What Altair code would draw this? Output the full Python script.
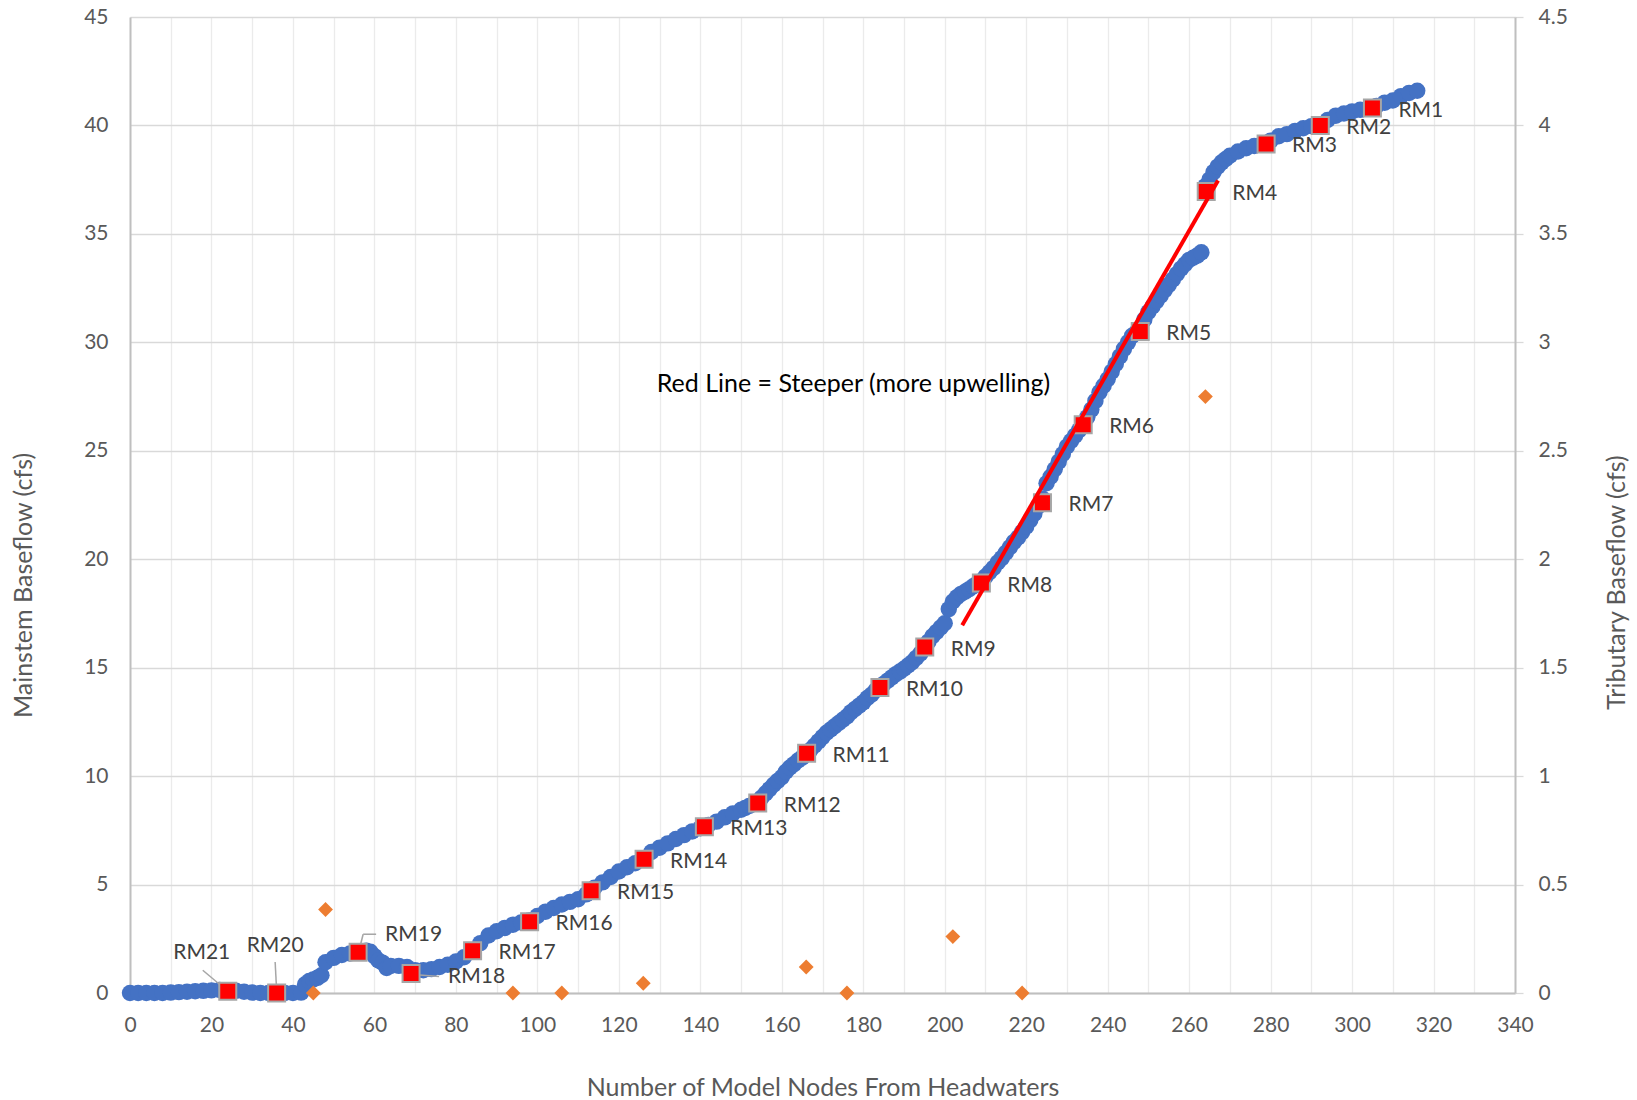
import altair as alt
import pandas as pd

# ---------------------------------------------------------------------------
# Mainstem baseflow (cfs) by model node, headwaters = node 0.
# Reach above the tributary inflow at node 264, then the reach below it.
# ---------------------------------------------------------------------------
upper_nodes = [0, 2, 4, 6, 8, 10, 12, 14, 16, 18, 20, 22, 24, 26, 28, 30, 32, 34, 36, 38,
               40, 42, 43, 44, 45, 46, 47, 48, 50, 52, 54, 56, 58, 59, 60, 61, 62, 63, 64, 66,
               68, 70, 72, 74, 76, 78, 80, 82, 84, 86, 88, 90, 92, 94, 96, 98, 100, 102, 104,
               106, 108, 110, 112, 114, 116, 118, 120, 122, 124, 126, 128, 130, 132, 134, 136,
               138, 140, 142, 144, 146, 148]
upper_flow = [0.0, 0.0, 0.0, 0.0, 0.0, 0.02, 0.04, 0.06, 0.08, 0.1, 0.12, 0.14, 0.12, 0.1,
              0.06, 0.02, 0.0, 0.0, 0.0, 0.0, 0.0, 0.02, 0.4, 0.55, 0.62, 0.7, 0.82, 1.42,
              1.62, 1.75, 1.82, 1.88, 1.95, 1.9, 1.7, 1.5, 1.4, 1.15, 1.25, 1.25, 1.2, 1.05,
              1.05, 1.1, 1.2, 1.3, 1.45, 1.65, 1.95, 2.3, 2.65, 2.85, 3.0, 3.15, 3.25, 3.35,
              3.55, 3.75, 3.92, 4.08, 4.2, 4.32, 4.55, 4.85, 5.1, 5.35, 5.6, 5.8, 5.98, 6.2,
              6.5, 6.7, 6.9, 7.1, 7.28, 7.45, 7.6, 7.75, 7.9, 8.1, 8.28]

steep_nodes = list(range(150, 264))
steep_flow = [8.45, 8.53, 8.62, 8.7, 8.8, 9.0, 9.2, 9.4, 9.6, 9.78,
              9.95, 10.2, 10.4, 10.55, 10.72, 10.85, 11.0, 11.2, 11.4, 11.6,
              11.8, 12.0, 12.15, 12.3, 12.45, 12.6, 12.75, 12.95, 13.1, 13.25,
              13.4, 13.6, 13.75, 13.95, 14.1, 14.25, 14.4, 14.55, 14.7, 14.82,
              14.95, 15.1, 15.25, 15.45, 15.65, 15.95, 16.2, 16.45, 16.65, 16.85,
              17.05, 17.7, 18.05, 18.25, 18.4, 18.5, 18.62, 18.75, 18.88, 19.0,
              19.2, 19.4, 19.6, 19.85, 20.05, 20.3, 20.55, 20.8, 21.0, 21.25,
              21.5, 21.8, 22.1, 22.45, 22.8, 23.5, 23.8, 24.15, 24.5, 24.85,
              25.2, 25.45, 25.7, 25.95, 26.2, 26.55, 26.9, 27.3, 27.7, 28.0,
              28.3, 28.65, 29.0, 29.35, 29.7, 30.0, 30.3, 30.45, 30.65, 31.05,
              31.4, 31.65, 31.9, 32.15, 32.4, 32.65, 32.9, 33.15, 33.4, 33.6,
              33.8, 33.9, 34.0, 34.15]

lower_nodes = [264, 265, 266, 267, 268, 269, 270, 272, 274, 276, 278, 280, 282, 284, 286,
               288, 290, 292, 294, 296, 298, 300, 302, 304, 306, 308, 310, 312, 314, 316]
lower_flow = [37.2, 37.5, 37.85, 38.1, 38.3, 38.45, 38.6, 38.8, 38.95, 39.05, 39.15, 39.3,
              39.5, 39.6, 39.75, 39.87, 39.97, 40.05, 40.25, 40.45, 40.55, 40.65, 40.72,
              40.8, 40.9, 41.05, 41.15, 41.35, 41.5, 41.6]

# River-mile markers along the mainstem
rm_names = ["RM1", "RM2", "RM3", "RM4", "RM5", "RM6", "RM7", "RM8", "RM9", "RM10", "RM11",
            "RM12", "RM13", "RM14", "RM15", "RM16", "RM17", "RM18", "RM19", "RM20", "RM21"]
rm_nodes = [305.0, 292.2, 278.9, 264.2, 248.0, 234.0, 224.0, 209.0, 195.1, 184.1, 166.1,
            154.1, 141.0, 126.2, 113.2, 98.1, 84.1, 69.0, 56.0, 36.0, 24.0]
rm_flow = [40.8, 40.0, 39.15, 36.95, 30.5, 26.2, 22.6, 18.9, 15.95, 14.08, 11.05,
           8.76, 7.66, 6.17, 4.72, 3.28, 1.95, 0.9, 1.88, 0.0, 0.08]

# Tributary inflows (secondary axis, cfs)
trib_nodes = [45, 48, 94, 106, 126, 166, 176, 202, 219, 264]
trib_flow = [0.0, 0.385, 0.0, 0.0, 0.045, 0.12, 0.0, 0.26, 0.0, 2.75]

# Steeper reach highlighted in red
steep_line_nodes = [204.3, 267.1]
steep_line_flow = [16.96, 37.46]

note_text = "Red Line = Steeper (more upwelling)"

# ---------------------------------------------------------------------------
# Layout
# ---------------------------------------------------------------------------
W, H = 1385, 976
X_MAX, Y_MAX, Y2_MAX = 340, 45, 4.5
PX_X = W / X_MAX
PX_Y = H / Y_MAX
FONT = "Lato"
TICK_GREY = "#595959"
LABEL_GREY = "#404040"
AXIS_LINE = "#BFBFBF"
TITLE_SIZE = 25

# pixel offsets (right, down) of each label from its marker; default for the rest
label_offsets = {
    "RM21": (-26, -38, "center"),
    "RM20": (-1.5, -47.5, "center"),
    "RM19": (27, -17, "left"),
    "RM18": (37, 4, "left"),
}
# leader segments in pixel offsets from the marker centre
leader_segments = {
    "RM21": [((0, 0), (-25, -21))],
    "RM20": [((0, -2), (-1.5, -31))],
    "RM19": [((1.5, -4), (5, -18)), ((5, -18), (18, -18))],
    "RM18": [((2, 1), (28, 3))],
}

main_df = pd.DataFrame({
    "x": upper_nodes + steep_nodes + lower_nodes,
    "y": upper_flow + steep_flow + lower_flow,
})
rm_df = pd.DataFrame({"name": rm_names, "x": rm_nodes, "y": rm_flow})
trib_df = pd.DataFrame({"x": trib_nodes, "t": trib_flow})
steep_df = pd.DataFrame({"x": steep_line_nodes, "y": steep_line_flow})

lab_rows = []
for n, x, y in zip(rm_names, rm_nodes, rm_flow):
    ox, oy, al = label_offsets.get(n, (26, 2.5, "left"))
    lab_rows.append({"name": n, "x": x + ox / PX_X, "y": y - oy / PX_Y, "align": al})
lab_df = pd.DataFrame(lab_rows)

seg_rows = []
for n, segs in leader_segments.items():
    i = rm_names.index(n)
    for (a, b) in segs:
        seg_rows.append({
            "x": rm_nodes[i] + a[0] / PX_X, "y": rm_flow[i] - a[1] / PX_Y,
            "x2": rm_nodes[i] + b[0] / PX_X, "y2": rm_flow[i] - b[1] / PX_Y,
        })
seg_df = pd.DataFrame(seg_rows)

note_df = pd.DataFrame({"x": [129.3], "y": [28.08], "text": [note_text]})

x_axis = alt.Axis(
    values=list(range(0, X_MAX + 1, 10)),
    labelExpr="datum.value % 20 === 0 ? datum.label : ''",
    labelFlush=False,
    grid=True, gridColor="#EBEBEB", gridWidth=1.3,
    domainColor=AXIS_LINE, domainWidth=2,
    ticks=False, tickSize=0, labelPadding=21,
    labelFont=FONT, labelFontSize=21, labelColor=TICK_GREY,
    title="Number of Model Nodes From Headwaters",
    titleFont=FONT, titleFontSize=TITLE_SIZE, titleColor=TICK_GREY, titleFontWeight="normal",
    titleY=94, titleBaseline="middle",
)
y_axis = alt.Axis(
    values=list(range(0, Y_MAX + 1, 5)),
    labelFlush=False,
    grid=True, gridColor="#D9D9D9", gridWidth=1.3,
    domainColor=AXIS_LINE, domainWidth=2,
    ticks=False, tickSize=0, labelPadding=22,
    labelFont=FONT, labelFontSize=21, labelColor=TICK_GREY,
    title="Mainstem Baseflow (cfs)",
    titleFont=FONT, titleFontSize=TITLE_SIZE, titleColor=TICK_GREY, titleFontWeight="normal",
    titleAngle=270, titleX=-107, titleY=568, titleAlign="center", titleBaseline="middle",
)
y2_axis = alt.Axis(
    orient="right",
    values=[i * 0.5 for i in range(10)], format="~g",
    labelFlush=False,
    grid=False, domainColor=AXIS_LINE, domainWidth=2,
    ticks=True, tickSize=8, tickColor="#D9D9D9", tickWidth=1.3, labelPadding=15,
    labelFont=FONT, labelFontSize=21, labelColor=TICK_GREY,
    title="Tributary Baseflow (cfs)",
    titleFont=FONT, titleFontSize=TITLE_SIZE, titleColor=TICK_GREY, titleFontWeight="normal",
    titleAngle=270, titleX=101, titleY=565, titleAlign="center", titleBaseline="middle",
)

xs = alt.Scale(domain=[0, X_MAX], nice=False, zero=False)
ys = alt.Scale(domain=[0, Y_MAX], nice=False)
X = alt.X("x:Q", scale=xs, axis=x_axis)
Y = alt.Y("y:Q", scale=ys, axis=y_axis)

mainstem = alt.Chart(main_df).mark_circle(size=270, opacity=1, color="#4472C4").encode(x=X, y=Y)

leaders = alt.Chart(seg_df).mark_rule(color="#A6A6A6", strokeWidth=1.5).encode(
    x=X, y=Y, x2="x2:Q", y2="y2:Q")

markers = alt.Chart(rm_df).mark_square(
    size=289, color="#FF0000", opacity=1, stroke="#A6A6A6", strokeWidth=2
).encode(x=X, y=Y)

steep = alt.Chart(steep_df).mark_line(color="#FF0000", strokeWidth=4).encode(x=X, y=Y)

labels_left = alt.Chart(lab_df).transform_filter("datum.align === 'left'").mark_text(
    align="left", baseline="middle", font=FONT, fontSize=21, color=LABEL_GREY
).encode(x=X, y=Y, text="name:N")
labels_center = alt.Chart(lab_df).transform_filter("datum.align === 'center'").mark_text(
    align="center", baseline="middle", font=FONT, fontSize=21, color=LABEL_GREY
).encode(x=X, y=Y, text="name:N")

note = alt.Chart(note_df).mark_text(
    align="left", baseline="middle", font=FONT, fontSize=25, color="#000000"
).encode(x=X, y=Y, text="text:N")

left_layers = alt.layer(mainstem, leaders, markers, steep, labels_left, labels_center, note)

tributary = alt.Chart(trib_df).mark_point(
    shape="diamond", size=220, filled=True, color="#ED7D31", opacity=1
).encode(
    x=X,
    y=alt.Y("t:Q", scale=alt.Scale(domain=[0, Y2_MAX], nice=False), axis=y2_axis),
)

chart = alt.layer(left_layers, tributary).resolve_scale(y="independent").properties(
    width=W, height=H,
    padding={"left": 130, "top": 17, "right": 1637 - 130 - W, "bottom": 1100 - 17 - H},
    autosize=alt.AutoSizeParams(type="none"),
    background="white",
).configure_view(stroke=None)

chart.save("out.html", embed_options={"renderer": "svg", "actions": False})
